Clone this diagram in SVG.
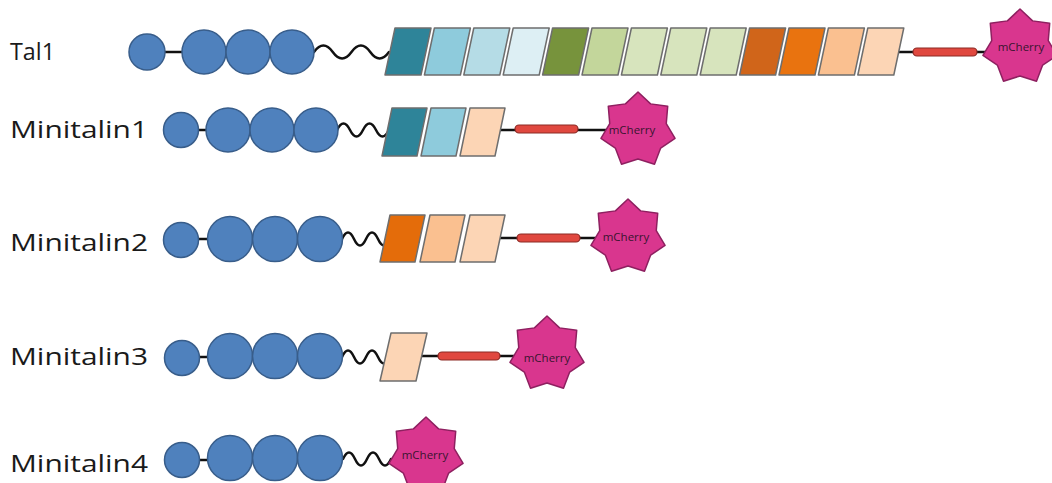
<svg xmlns="http://www.w3.org/2000/svg" xmlns:xlink="http://www.w3.org/1999/xlink" width="1052" height="483" viewBox="0 0 1052 483">
<style>
.lbl{font-family:"Open Sans","Liberation Sans",sans-serif;font-size:24.5px;fill:#1a1a1a}
.mc{font-family:"Open Sans","Liberation Sans",sans-serif;font-size:11.5px;fill:#3a1530;text-anchor:middle}
.dom{fill:#4F81BD;stroke:#385D8A;stroke-width:1.5}
.lnk{stroke:#111;stroke-width:2.5;fill:none}
.wave{stroke:#111;stroke-width:2.5;fill:none;stroke-linecap:round}
.bx{stroke:#6e6e6e;stroke-width:1.5;stroke-linejoin:round}
.bar{fill:#E0483F;stroke:#8B2A25;stroke-width:1.2}
.star{fill:#D9368E;stroke:#8E2060;stroke-width:1.5;stroke-linejoin:round}
</style>
<defs>
<polygon id="star" class="star" points="0,-38 12.59,-26.13 29.71,-23.69 28.27,-6.46 37.05,8.46 22.67,18.08 16.49,34.24 0,29 -16.49,34.24 -22.67,18.08 -37.05,8.46 -28.27,-6.46 -29.71,-23.69 -12.59,-26.13"/>
</defs>
<rect width="1052" height="483" fill="#ffffff"/>

<g id="connectors">
<line class="lnk" x1="165" y1="52" x2="183" y2="52"/>
<path class="wave" d="M314,52 q9.4,-13 18.75,0 t18.75,0 t18.75,0 t18.75,0"/>
<line class="lnk" x1="896" y1="52" x2="990" y2="52"/>
<line class="lnk" x1="198" y1="130" x2="207" y2="130"/>
<path class="wave" d="M337,130 q6.5,-13 13,0 t13,0 t13,0 t13,0"/>
<line class="lnk" x1="498" y1="130" x2="607" y2="130"/>
<line class="lnk" x1="198" y1="239" x2="207" y2="239"/>
<path class="wave" d="M342,239 q6,-13 12,0 t12,0 t12,0 t12,0"/>
<line class="lnk" x1="498" y1="238" x2="600" y2="238"/>
<line class="lnk" x1="199" y1="357" x2="208" y2="357"/>
<path class="wave" d="M342,357 q6,-13 12,0 t12,0 t12,0 t12,0"/>
<line class="lnk" x1="420" y1="356" x2="515" y2="356"/>
<line class="lnk" x1="199" y1="460" x2="208" y2="460"/>
<path class="wave" d="M343,459 q6,-13 12,0 t12,0 t12,0 t12,0"/>
</g>

<g id="tal1">
<text class="lbl" x="10" y="60" textLength="45" lengthAdjust="spacingAndGlyphs">Tal1</text>
<circle class="dom" cx="147" cy="52" r="18"/>
<circle class="dom" cx="204" cy="52" r="22"/>
<circle class="dom" cx="248" cy="52" r="22"/>
<circle class="dom" cx="292" cy="52" r="22"/>
<polygon class="bx" fill="#2E8499" stroke="#1f5f70" points="395,28 431,28 421,75 385,75"/>
<polygon class="bx" fill="#8ECBDC" points="434.4,28 470.4,28 460.4,75 424.4,75"/>
<polygon class="bx" fill="#B5DCE6" points="473.8,28 509.8,28 499.8,75 463.8,75"/>
<polygon class="bx" fill="#DDEFF4" points="513.2,28 549.2,28 539.2,75 503.2,75"/>
<polygon class="bx" fill="#77933C" stroke="#4f6428" points="552.6,28 588.6,28 578.6,75 542.6,75"/>
<polygon class="bx" fill="#C3D69B" points="592,28 628,28 618,75 582,75"/>
<polygon class="bx" fill="#D7E4BD" points="631.4,28 667.4,28 657.4,75 621.4,75"/>
<polygon class="bx" fill="#D7E4BD" points="670.8,28 706.8,28 696.8,75 660.8,75"/>
<polygon class="bx" fill="#D7E4BD" points="710.2,28 746.2,28 736.2,75 700.2,75"/>
<polygon class="bx" fill="#D0651A" stroke="#8f4512" points="749.6,28 785.6,28 775.6,75 739.6,75"/>
<polygon class="bx" fill="#E9730F" stroke="#a4520b" points="789,28 825,28 815,75 779,75"/>
<polygon class="bx" fill="#FAC090" points="828.4,28 864.4,28 854.4,75 818.4,75"/>
<polygon class="bx" fill="#FCD5B5" points="867.8,28 903.8,28 893.8,75 857.8,75"/>
<rect class="bar" x="913" y="48" width="64" height="8" rx="4"/>
<use xlink:href="#star" href="#star" x="1020" y="47"/>
<text class="mc" x="1021" y="51">mCherry</text>
</g>

<g id="minitalin1">
<text class="lbl" x="10" y="138" textLength="138" lengthAdjust="spacingAndGlyphs">Minitalin1</text>
<circle class="dom" cx="181" cy="130" r="17.5"/>
<circle class="dom" cx="228" cy="130" r="22"/>
<circle class="dom" cx="272" cy="130" r="22"/>
<circle class="dom" cx="316" cy="130" r="22"/>
<polygon class="bx" fill="#2E8499" stroke="#1f5f70" points="392,108 427,108 417,156 382,156"/>
<polygon class="bx" fill="#8ECBDC" points="431,108 466,108 456,156 421,156"/>
<polygon class="bx" fill="#FCD5B5" points="470,108 505,108 495,156 460,156"/>
<rect class="bar" x="515" y="125" width="63" height="8" rx="4"/>
<use xlink:href="#star" href="#star" x="638" y="130"/>
<text class="mc" x="632" y="134">mCherry</text>
</g>

<g id="minitalin2">
<text class="lbl" x="10" y="251" textLength="138" lengthAdjust="spacingAndGlyphs">Minitalin2</text>
<circle class="dom" cx="181" cy="240" r="17.5"/>
<circle class="dom" cx="230" cy="239" r="22.5"/>
<circle class="dom" cx="275" cy="239" r="22.5"/>
<circle class="dom" cx="320" cy="239" r="22.5"/>
<polygon class="bx" fill="#E46C0A" stroke="#a4520b" points="390,215 425,215 415,262 380,262"/>
<polygon class="bx" fill="#FAC090" points="430,215 465,215 455,262 420,262"/>
<polygon class="bx" fill="#FCD5B5" points="470,215 505,215 495,262 460,262"/>
<rect class="bar" x="517" y="234" width="63" height="8" rx="4"/>
<use xlink:href="#star" href="#star" x="628" y="237"/>
<text class="mc" x="626" y="241">mCherry</text>
</g>

<g id="minitalin3">
<text class="lbl" x="10" y="365" textLength="138" lengthAdjust="spacingAndGlyphs">Minitalin3</text>
<circle class="dom" cx="182" cy="358" r="17.5"/>
<circle class="dom" cx="230" cy="356" r="22.5"/>
<circle class="dom" cx="275" cy="356" r="22.5"/>
<circle class="dom" cx="320" cy="356" r="22.5"/>
<polygon class="bx" fill="#FCD5B5" points="391,333 427,333 416,381 380,381"/>
<rect class="bar" x="438" y="352" width="62" height="8" rx="4"/>
<use xlink:href="#star" href="#star" x="547" y="354"/>
<text class="mc" x="547" y="362">mCherry</text>
</g>

<g id="minitalin4">
<text class="lbl" x="10" y="472" textLength="138" lengthAdjust="spacingAndGlyphs">Minitalin4</text>
<circle class="dom" cx="182" cy="460" r="17.5"/>
<circle class="dom" cx="230" cy="458" r="22.5"/>
<circle class="dom" cx="275" cy="458" r="22.5"/>
<circle class="dom" cx="320" cy="458" r="22.5"/>
<use xlink:href="#star" href="#star" x="426" y="455"/>
<text class="mc" x="425" y="459">mCherry</text>
</g>
</svg>
